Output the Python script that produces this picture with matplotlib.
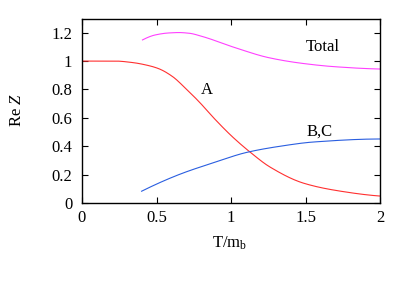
import matplotlib
matplotlib.use("Agg")
import matplotlib.pyplot as plt
import numpy as np

# Data
t_a = [0.0, 0.224, 0.336, 0.448, 0.516, 0.605, 0.695, 0.785, 0.897, 1.009, 1.13, 1.264, 1.489, 1.713, 2.0]
z_a = [1.0, 1.0, 0.99, 0.968, 0.946, 0.893, 0.808, 0.714, 0.585, 0.467, 0.357, 0.252, 0.139, 0.087, 0.049]

t_bc = [0.40, 0.66, 0.883, 1.107, 1.33, 1.556, 2.0]
z_bc = [0.083, 0.204, 0.284, 0.357, 0.40, 0.43, 0.451]

t_tot = [0.406, 0.491, 0.58, 0.65, 0.72, 0.805, 1.029, 1.253, 1.477, 1.70, 2.0]
z_tot = [1.149, 1.184, 1.198, 1.201, 1.196, 1.174, 1.094, 1.024, 0.984, 0.96, 0.944]

xticks = [0, 0.5, 1, 1.5, 2]
xticklabels = ["0", "0.5", "1", "1.5", "2"]
yticks = [0, 0.2, 0.4, 0.6, 0.8, 1.0, 1.2]
yticklabels = ["0", "0.2", "0.4", "0.6", "0.8", "1", "1.2"]

plt.rcParams['font.family'] = ['Liberation Serif', 'DejaVu Serif']
plt.rcParams['mathtext.fontset'] = 'custom'
plt.rcParams['mathtext.rm'] = 'Liberation Serif'
plt.rcParams['mathtext.it'] = 'Liberation Serif:italic'

fig = plt.figure(figsize=(4.07, 2.84), dpi=100)
ax = fig.add_axes([82/407, 1 - 203/284, (380-82)/407, (203-18.5)/284])


def pchip(x, y, n=300):
    """Shape-preserving cubic interpolation through the read points."""
    x = np.asarray(x, float); y = np.asarray(y, float)
    h = np.diff(x); d = np.diff(y) / h
    m = np.zeros_like(y)
    for i in range(1, len(y) - 1):
        if d[i-1] * d[i] <= 0:
            m[i] = 0.0
        else:
            w1 = 2*h[i] + h[i-1]; w2 = h[i] + 2*h[i-1]
            m[i] = (w1 + w2) / (w1/d[i-1] + w2/d[i])

    def end(h0, h1, d0, d1):
        s = ((2*h0 + h1)*d0 - h0*d1) / (h0 + h1)
        if np.sign(s) != np.sign(d0):
            s = 0.0
        elif np.sign(d0) != np.sign(d1) and abs(s) > abs(3*d0):
            s = 3*d0
        return s
    m[0] = end(h[0], h[1], d[0], d[1])
    m[-1] = end(h[-1], h[-2], d[-1], d[-2])
    xs = np.linspace(x[0], x[-1], n)
    idx = np.clip(np.searchsorted(x, xs) - 1, 0, len(x) - 2)
    hh = h[idx]; tt = (xs - x[idx]) / hh
    h00 = 2*tt**3 - 3*tt**2 + 1; h10 = tt**3 - 2*tt**2 + tt
    h01 = -2*tt**3 + 3*tt**2; h11 = tt**3 - tt**2
    ys = h00*y[idx] + h10*hh*m[idx] + h01*y[idx+1] + h11*hh*m[idx+1]
    return xs, ys


ax.plot(*pchip(t_a, z_a), color='#ff3030', lw=0.8)
ax.plot(*pchip(t_bc, z_bc), color='#2a5ee0', lw=0.8)
ax.plot(*pchip(t_tot, z_tot), color='#ff40ff', lw=0.8)

ax.set_xlim(0, 2)
ax.set_ylim(0, 1.3)
ax.set_xticks(xticks)
ax.set_xticklabels(xticklabels)
ax.set_yticks(yticks)
ax.set_yticklabels(yticklabels)
ax.tick_params(direction='in', top=True, right=True, length=4, width=0.8,
               labelsize=12)
ax.tick_params(axis='y', pad=7)
ax.tick_params(axis='x', pad=5)
for s in ax.spines.values():
    s.set_linewidth(1.0)

ax.text(1.50, 1.097, "Total", fontsize=12, va='center', ha='left')
ax.text(0.838, 0.796, "A", fontsize=12, va='center', ha='center')
ax.text(1.507, 0.50, "B,C", fontsize=12, va='center', ha='left')

fig.text(17/407, 1 - 110/284, r"Re $\it{Z}$", rotation=90, fontsize=12,
         va='center', ha='center')
fig.text(230/407, 1 - 243/284, r"T/m$_\mathrm{b}$", fontsize=12,
         va='center', ha='center')

fig.savefig("out.png", dpi=100)
